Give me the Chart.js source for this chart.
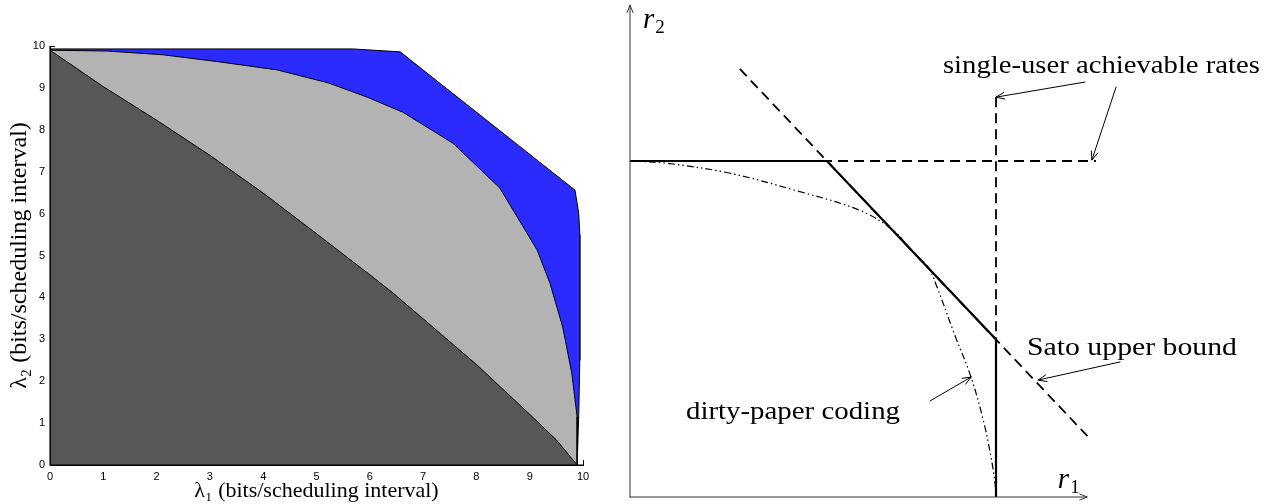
<!DOCTYPE html>
<html>
<head>
<meta charset="utf-8">
<script src="https://cdn.jsdelivr.net/npm/chart.js@4.4.1/dist/chart.umd.min.js"></script>
<style>
  html, body { margin: 0; padding: 0; background: #fff; }
  #wrap { position: relative; width: 1276px; height: 504px; overflow: hidden; }
  #c1 { position: absolute; left: 0; top: 0; }
  #c2 { position: absolute; left: 600px; top: 0; }
</style>
</head>
<body>
<div id="wrap">
  <canvas id="c1" width="600" height="504"></canvas>
  <canvas id="c2" width="676" height="504"></canvas>
</div>
<script>
// ---------------- Left panel: rate regions (lambda1, lambda2) ----------------
const lambdaTicks = [0, 1, 2, 3, 4, 5, 6, 7, 8, 9, 10];

// region corner (0,0) first, then the outer boundary
const darkLambda1 = [0, 0, 1, 2, 3, 4, 5, 6, 6.44, 7, 8, 9, 9.5, 9.89];
const darkLambda2 = [0, 9.9, 9.03, 8.23, 7.39, 6.49, 5.52, 4.54, 4.1, 3.49, 2.40, 1.21, 0.60, 0];

const lightLambda1 = [0, 0, 1.07, 2.12, 3.19, 4.26, 5.22, 5.95, 6.62, 7.56, 8.44, 9.14, 9.38, 9.62, 9.79, 9.89, 9.89];
const lightLambda2 = [0, 9.9, 9.88, 9.79, 9.62, 9.43, 9.12, 8.78, 8.42, 7.68, 6.61, 5.13, 4.34, 3.29, 2.19, 1.15, 0];

const blueLambda1 = [0, 0, 5.68, 6.57, 9.85, 9.92, 9.94, 9.94, 9.92, 9.89];
const blueLambda2 = [0, 9.93, 9.93, 9.86, 6.56, 6.0, 5.5, 2.5, 1.2, 0];

const xTitle = 'λ₁ (bits/scheduling interval)';
const yTitle = 'λ₂ (bits/scheduling interval)';

function pts(xs, ys) { return xs.map((v, i) => ({ x: v, y: ys[i] })); }

const matlabAxes = {
  id: 'matlabAxes',
  beforeDatasetsDraw(chart) {
    const { ctx, chartArea: a, scales: { x, y } } = chart;
    ctx.save();
    ctx.strokeStyle = '#000';
    ctx.lineWidth = 1;
    ctx.beginPath();
    x.ticks.forEach(t => {
      const px = Math.round(x.getPixelForValue(t.value)) + 0.5;
      ctx.moveTo(px, a.bottom); ctx.lineTo(px, a.bottom - 5);
    });
    y.ticks.forEach(t => {
      const py = Math.round(y.getPixelForValue(t.value)) + 0.5;
      ctx.moveTo(a.left, py); ctx.lineTo(a.left + 5, py);
    });
    ctx.stroke();
    ctx.restore();
  },
  afterDatasetsDraw(chart) {
    const { ctx, chartArea: a } = chart;
    ctx.save();
    ctx.strokeStyle = '#000';
    ctx.lineWidth = 1.2;
    ctx.beginPath();
    ctx.moveTo(a.left, a.top); ctx.lineTo(a.left, a.bottom); ctx.lineTo(a.right, a.bottom);
    ctx.stroke();
    ctx.restore();
  }
};

new Chart(document.getElementById('c1'), {
  type: 'line',
  data: {
    datasets: [
      { label: 'dark', data: pts(darkLambda1, darkLambda2), backgroundColor: '#575757' },
      { label: 'light', data: pts(lightLambda1, lightLambda2), backgroundColor: '#b3b3b3' },
      { label: 'blue', data: pts(blueLambda1, blueLambda2), backgroundColor: '#2b2bff' }
    ].map(d => Object.assign(d, { fill: 'shape', borderColor: '#000', borderWidth: 1, pointRadius: 0, tension: 0 }))
  },
  options: {
    responsive: false,
    animation: false,
    layout: { padding: { left: 0, right: 17, top: 46, bottom: 0 } },
    plugins: { legend: { display: false }, tooltip: { enabled: false } },
    scales: {
      x: {
        type: 'linear', min: 0, max: 10,
        afterBuildTicks: s => { s.ticks = lambdaTicks.map(v => ({ value: v })); },
        grid: { display: true, drawOnChartArea: false, drawTicks: false },
        border: { display: true, color: '#000', width: 1 },
        ticks: { padding: 5, color: '#000', font: { family: '"Liberation Sans", Arial, sans-serif', size: 11 } },
        title: { display: true, text: xTitle, color: '#000', padding: { top: 0, bottom: 0 },
                 font: { family: '"Liberation Serif", serif', size: 22 } },
        afterFit: s => { s.height = 39; }
      },
      y: {
        type: 'linear', min: 0, max: 10,
        afterBuildTicks: s => { s.ticks = lambdaTicks.map(v => ({ value: v })); },
        grid: { display: true, drawOnChartArea: false, drawTicks: false },
        border: { display: true, color: '#000', width: 1 },
        ticks: { padding: 5, color: '#000', font: { family: '"Liberation Sans", Arial, sans-serif', size: 11 } },
        title: { display: true, text: yTitle, color: '#000', padding: { top: 5, bottom: 0 },
                 font: { family: '"Liberation Serif", serif', size: 24 } },
        afterFit: s => { s.width = 50; }
      }
    }
  },
  plugins: [matlabAxes]
});

// ---------------- Right panel: broadcast-channel rate regions (r1, r2) ----------------
const boundaryR1 = [0, 0.538, 1.0, 1.0];          // achievable region (solid)
const boundaryR2 = [1.0, 1.0, 0.469, 0];
const satoR1 = [0.30, 1.25];                       // Sato upper bound (dashed)
const satoR2 = [1.274, 0.181];
const singleUserHR1 = [0, 1.273];                  // single-user rate of user 2 (dashed)
const singleUserHR2 = [1, 1];
const singleUserVR1 = [1, 1];                      // single-user rate of user 1 (dashed)
const singleUserVR2 = [1.19, 0];
const dpcR1 = [0, 0.0956, 0.2705, 0.448, 0.6257, 0.7186, 0.7678, 0.8142, 0.8388, 0.8852, 0.9317, 0.9672, 0.9863, 0.9973, 1.0];
const dpcR2 = [1.0, 0.994, 0.9643, 0.9137, 0.8542, 0.7946, 0.7351, 0.6845, 0.625, 0.4881, 0.3571, 0.2202, 0.119, 0.0417, 0.0];

const serif = '"Liberation Serif", "Times New Roman", serif';

const annotate = {
  id: 'annotate',
  afterDatasetsDraw(chart, args, opts) {
    const { ctx, scales: { x, y } } = chart;
    ctx.save();
    ctx.lineCap = 'round';
    for (const a of opts.arrows) {
      const x0 = x.getPixelForValue(a.from[0]), y0 = y.getPixelForValue(a.from[1]);
      const x1 = x.getPixelForValue(a.to[0]), y1 = y.getPixelForValue(a.to[1]);
      ctx.strokeStyle = a.color; ctx.lineWidth = a.width;
      ctx.beginPath(); ctx.moveTo(x0, y0); ctx.lineTo(x1, y1); ctx.stroke();
      const ang = Math.atan2(y1 - y0, x1 - x0), L = a.head, w = 0.38;
      ctx.beginPath();
      ctx.moveTo(x1 - L * Math.cos(ang - w), y1 - L * Math.sin(ang - w));
      ctx.lineTo(x1, y1);
      ctx.lineTo(x1 - L * Math.cos(ang + w), y1 - L * Math.sin(ang + w));
      ctx.stroke();
    }
    ctx.fillStyle = '#000';
    ctx.textBaseline = 'alphabetic';
    ctx.textAlign = 'left';
    for (const t of opts.texts) {
      let px = x.getPixelForValue(t.at[0]);
      const py = y.getPixelForValue(t.at[1]);
      for (const p of t.parts) {
        ctx.font = p.font;
        const w = ctx.measureText(p.text).width;
        const sx = p.width ? p.width / w : 1;
        ctx.save();
        ctx.translate(px, py + (p.dy || 0));
        ctx.scale(sx, 1);
        ctx.fillText(p.text, 0, 0);
        ctx.restore();
        px += w * sx + (p.gap || 0);
      }
    }
    ctx.restore();
  }
};

const lineDs = (label, xs, ys, style) => Object.assign({
  label, data: pts(xs, ys), borderColor: '#000', pointRadius: 0, tension: 0, fill: false
}, style);

new Chart(document.getElementById('c2'), {
  type: 'line',
  data: {
    datasets: [
      lineDs('region', boundaryR1, boundaryR2, { borderWidth: 2.2 }),
      lineDs('dirty-paper coding', dpcR1, dpcR2, { borderWidth: 1.2, borderDash: [7, 3, 1.5, 3, 1.5, 3], tension: 0.35 }),
      lineDs('Sato', satoR1, satoR2, { borderWidth: 1.8, borderDash: [10, 6] }),
      lineDs('single-user 2', singleUserHR1, singleUserHR2, { borderWidth: 1.8, borderDash: [10, 6] }),
      lineDs('single-user 1', singleUserVR1, singleUserVR2, { borderWidth: 1.8, borderDash: [10, 6] })
    ]
  },
  options: {
    responsive: false,
    animation: false,
    layout: { padding: 0 },
    plugins: {
      legend: { display: false }, tooltip: { enabled: false },
      annotate: {
        arrows: [
          { from: [0, 0], to: [0, 1.464], color: '#333', width: 1, head: 8 },
          { from: [0, 0], to: [1.249, 0], color: '#333', width: 1, head: 8 },
          { from: [1.243, 1.235], to: [1.0, 1.190], color: '#000', width: 1, head: 9 },
          { from: [1.328, 1.220], to: [1.262, 1.003], color: '#000', width: 1, head: 9 },
          { from: [1.339, 0.402], to: [1.115, 0.348], color: '#000', width: 1, head: 9 },
          { from: [0.820, 0.286], to: [0.932, 0.357], color: '#000', width: 1, head: 9 }
        ],
        texts: [
          { at: [0.0355, 1.396], parts: [{ text: 'r', font: 'italic 29px ' + serif, gap: 1 }, { text: '2', font: '19px ' + serif, dy: 5 }] },
          { at: [1.169, 0.0268], parts: [{ text: 'r', font: 'italic 29px ' + serif, gap: 1 }, { text: '1', font: '19px ' + serif, dy: 5 }] },
          { at: [0.855, 1.262], parts: [{ text: 'single-user achievable rates', font: '25px ' + serif, width: 317 }] },
          { at: [1.0847, 0.4226], parts: [{ text: 'Sato upper bound', font: '25px ' + serif, width: 210 }] },
          { at: [0.153, 0.232], parts: [{ text: 'dirty-paper coding', font: '25px ' + serif, width: 214 }] }
        ]
      }
    },
    scales: {
      x: { type: 'linear', display: false, min: -30 / 366, max: 646 / 366 },
      y: { type: 'linear', display: false, min: -7 / 336, max: 497 / 336 }
    }
  },
  plugins: [annotate]
});
</script>
</body>
</html>
